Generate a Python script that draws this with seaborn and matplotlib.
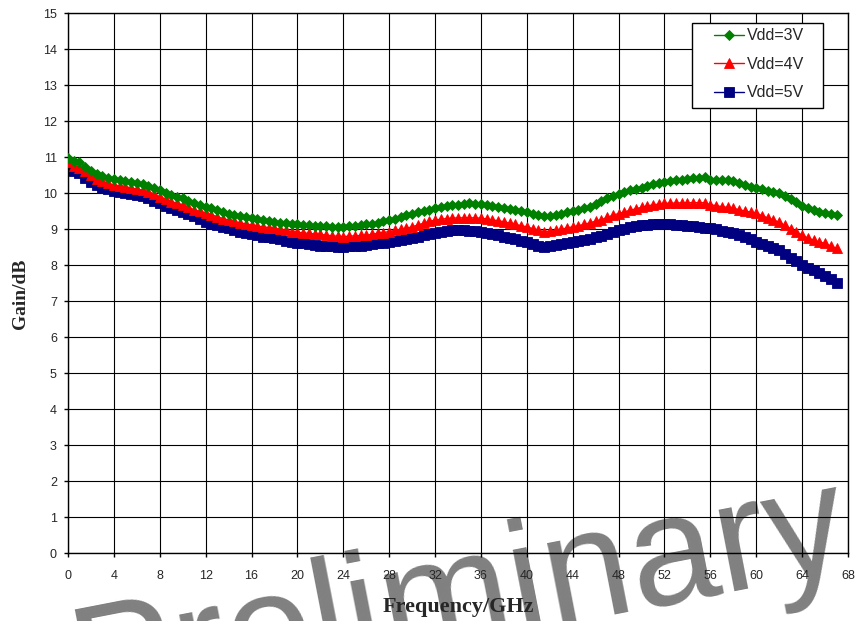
#!/usr/bin/env python3

import numpy as np
import pandas as pd
import matplotlib
matplotlib.use('Agg')
import matplotlib.pyplot as plt
from matplotlib.patches import Rectangle
import seaborn as sns

sns.set_style("white")
plt.rcParams['font.family'] = ['Liberation Sans', 'DejaVu Sans']

# frequency sweep (GHz), 0.5 GHz step
freq = np.arange(0, 67.5, 0.5)

# gain (dB)
gain_3v = [
    10.98, 10.89, 10.85, 10.73, 10.61, 10.53, 10.47, 10.42, 10.38, 10.35,
    10.33, 10.30, 10.27, 10.24, 10.20, 10.14, 10.08, 10.01, 9.94, 9.90,
    9.85, 9.78, 9.72, 9.67, 9.62, 9.57, 9.52, 9.47, 9.43, 9.40,
    9.37, 9.34, 9.31, 9.28, 9.25, 9.22, 9.20, 9.18, 9.16, 9.14,
    9.13, 9.11, 9.10, 9.09, 9.08, 9.07, 9.06, 9.06, 9.06, 9.07,
    9.09, 9.11, 9.13, 9.15, 9.18, 9.21, 9.25, 9.29, 9.34, 9.38,
    9.43, 9.47, 9.51, 9.54, 9.57, 9.60, 9.63, 9.66, 9.68, 9.70,
    9.71, 9.70, 9.69, 9.67, 9.64, 9.62, 9.59, 9.56, 9.53, 9.50,
    9.48, 9.43, 9.38, 9.35, 9.36, 9.39, 9.43, 9.47, 9.50, 9.53,
    9.57, 9.62, 9.70, 9.78, 9.85, 9.92, 9.98, 10.03, 10.07, 10.11,
    10.15, 10.20, 10.24, 10.28, 10.31, 10.33, 10.35, 10.37, 10.39, 10.41,
    10.43, 10.45, 10.37, 10.35, 10.36, 10.35, 10.32, 10.28, 10.23, 10.18,
    10.14, 10.10, 10.06, 10.03, 9.99, 9.93, 9.84, 9.74, 9.65, 9.58,
    9.52, 9.48, 9.45, 9.42, 9.38,
]
gain_4v = [
    10.85, 10.75, 10.70, 10.62, 10.50, 10.40, 10.33, 10.27, 10.22, 10.20,
    10.18, 10.14, 10.11, 10.08, 10.04, 9.97, 9.90, 9.83, 9.76, 9.72,
    9.67, 9.60, 9.53, 9.49, 9.45, 9.40, 9.34, 9.29, 9.25, 9.21,
    9.17, 9.14, 9.11, 9.08, 9.06, 9.04, 9.02, 8.99, 8.96, 8.93,
    8.91, 8.89, 8.88, 8.86, 8.85, 8.83, 8.81, 8.80, 8.79, 8.80,
    8.81, 8.82, 8.83, 8.85, 8.88, 8.90, 8.93, 8.96, 8.99, 9.02,
    9.06, 9.11, 9.16, 9.21, 9.25, 9.27, 9.29, 9.30, 9.31, 9.31,
    9.31, 9.31, 9.30, 9.28, 9.25, 9.23, 9.20, 9.16, 9.13, 9.09,
    9.06, 9.01, 8.96, 8.93, 8.94, 8.96, 8.99, 9.03, 9.06, 9.09,
    9.13, 9.17, 9.22, 9.26, 9.32, 9.38, 9.43, 9.47, 9.52, 9.56,
    9.60, 9.64, 9.67, 9.69, 9.71, 9.72, 9.72, 9.73, 9.73, 9.73,
    9.73, 9.73, 9.67, 9.65, 9.62, 9.60, 9.57, 9.54, 9.50, 9.47,
    9.44, 9.37, 9.31, 9.25, 9.19, 9.10, 9.01, 8.92, 8.83, 8.75,
    8.69, 8.64, 8.60, 8.53, 8.46,
]
gain_5v = [
    10.64, 10.60, 10.55, 10.41, 10.30, 10.22, 10.15, 10.10, 10.06, 10.03,
    10.00, 9.97, 9.94, 9.91, 9.87, 9.79, 9.71, 9.65, 9.59, 9.53,
    9.48, 9.41, 9.35, 9.27, 9.20, 9.15, 9.10, 9.06, 9.02, 8.97,
    8.93, 8.89, 8.85, 8.82, 8.79, 8.77, 8.74, 8.71, 8.68, 8.65,
    8.62, 8.60, 8.58, 8.56, 8.54, 8.53, 8.52, 8.51, 8.51, 8.52,
    8.53, 8.54, 8.56, 8.58, 8.60, 8.62, 8.65, 8.68, 8.70, 8.73,
    8.76, 8.79, 8.82, 8.85, 8.88, 8.91, 8.94, 8.96, 8.97, 8.96,
    8.95, 8.94, 8.92, 8.89, 8.86, 8.83, 8.79, 8.75, 8.71, 8.67,
    8.63, 8.59, 8.54, 8.51, 8.52, 8.55, 8.58, 8.60, 8.63, 8.66,
    8.69, 8.72, 8.77, 8.81, 8.86, 8.92, 8.97, 9.01, 9.05, 9.08,
    9.11, 9.12, 9.13, 9.14, 9.14, 9.13, 9.12, 9.10, 9.09, 9.07,
    9.05, 9.04, 9.02, 8.99, 8.95, 8.92, 8.88, 8.83, 8.77, 8.71,
    8.65, 8.59, 8.53, 8.47, 8.41, 8.31, 8.20, 8.10, 8.00, 7.93,
    7.85, 7.78, 7.70, 7.60, 7.49,
]

series_labels = ['Vdd=3V', 'Vdd=4V', 'Vdd=5V']
x_ticks = list(range(0, 69, 4))
y_ticks = list(range(0, 16))

fig = plt.figure(figsize=(8.55, 6.21), dpi=100)
ax = fig.add_axes([68 / 855, 1 - 553 / 621, 780 / 855, 540 / 621])
ax.set_facecolor('none')

styles = [
    (gain_3v, '#008000', 'D', 5.6, 4),
    (gain_4v, '#FF0000', '^', 6.8, 3),
    (gain_5v, '#000080', 's', 6.6, 2),
]
for (vals, col, mk, ms, zo), lab in zip(styles, series_labels):
    sns.lineplot(x=freq, y=vals, ax=ax, color=col, marker=mk, markersize=ms,
                 markeredgecolor=col, markeredgewidth=0.6, linewidth=1,
                 label=lab, zorder=zo)

ax.set_xlim(0, 68)
ax.set_ylim(0, 15)
ax.set_xticks(x_ticks)
ax.set_yticks(y_ticks)
ax.tick_params(axis='both', direction='out', length=3, width=1, color='black',
               labelsize=9, bottom=True, left=True)
ax.tick_params(axis='x', pad=9)
ax.tick_params(axis='y', pad=5)
ax.grid(True, color='black', linewidth=0.8)
ax.set_axisbelow(True)
for sp in ax.spines.values():
    sp.set_color('black')
    sp.set_linewidth(1)

ax.set_xlabel('Frequency/GHz', fontsize=16, fontweight='bold',
              family=['Liberation Serif', 'DejaVu Serif'])
ax.xaxis.set_label_coords(0.5, -0.082)
ax.set_ylabel('Gain/dB', fontsize=14, fontweight='bold',
              family=['Liberation Serif', 'DejaVu Serif'])
ax.yaxis.set_label_coords(-0.05, 0.48)

# legend box (Excel style), drawn separately so padding can match
ax.add_patch(Rectangle((0.8, 0.824), 0.168, 0.157, transform=ax.transAxes,
                       facecolor='white', edgecolor='black', linewidth=1,
                       zorder=5))
leg = ax.legend(loc='upper left', bbox_to_anchor=(0.828, 0.972), fontsize=11.5,
                frameon=False, borderpad=0, handlelength=1.9, handletextpad=0.2,
                labelspacing=0.85, borderaxespad=0)
leg.set_zorder(6)

# watermark behind everything
fig.text(82 / 855, 1 - 716 / 621, 'Preliminary', fontsize=113, color='#808080',
         rotation=11, rotation_mode='anchor', ha='left', va='baseline',
         zorder=-1, family=['Liberation Sans', 'DejaVu Sans'])

plt.savefig('out.png', dpi=100)
plt.close()
